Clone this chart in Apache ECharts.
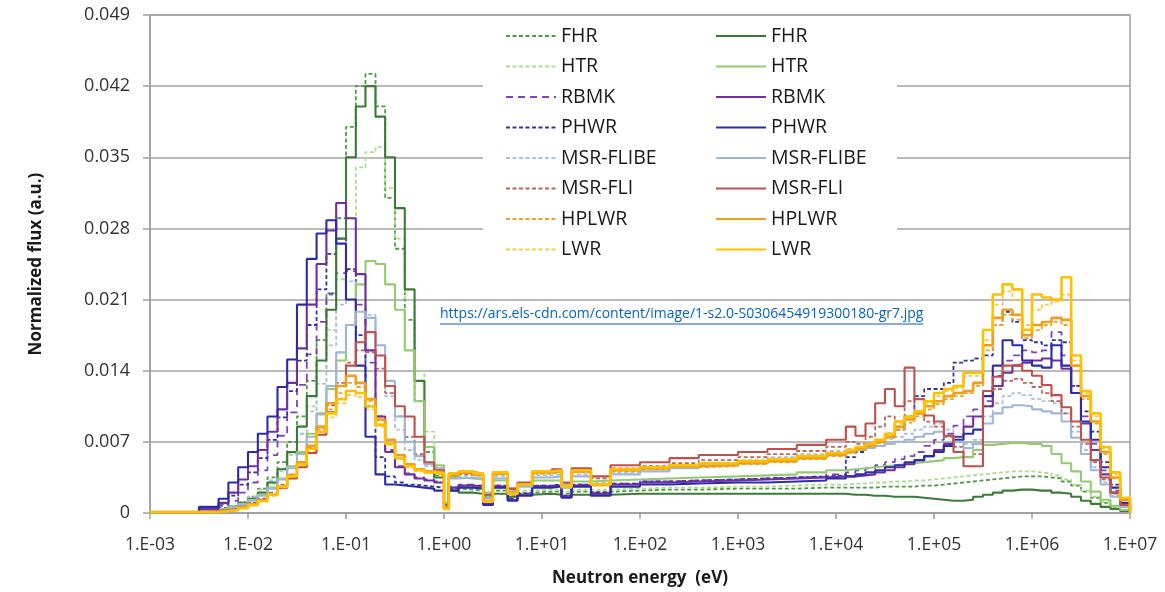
<!DOCTYPE html>
<html>
<head>
<meta charset="utf-8">
<script src="https://cdn.jsdelivr.net/npm/echarts@6/dist/echarts.min.js"></script>
<style>
  html, body { margin: 0; padding: 0; background: #ffffff; }
  #chart { width: 1165px; height: 592px; }
</style>
</head>
<body>
<div id="chart"></div>
<script>
// Lower edge of each energy group (eV); the flux value of a group holds until the next edge.
const energyEv = [
  0.001, 0.00316, 0.00501, 0.00631, 0.00794, 0.01, 0.0126, 0.0158, 0.02, 0.0251,
  0.0316, 0.0398, 0.0501, 0.0631, 0.0794, 0.1, 0.126, 0.158, 0.2, 0.251,
  0.316, 0.398, 0.501, 0.631, 0.794,
  1.0, 1.12, 1.41, 2.0, 2.51, 3.16, 4.47, 5.62, 7.94, 12.6, 15.8, 20, 31.6, 50.1,
  100, 200, 398, 1000, 2000, 3980, 7940, 12600,
  15800, 20000, 25100, 31600, 39800, 50100, 63100, 79400, 1e5, 1.26e5,
  1.58e5, 2e5, 2.51e5, 3.16e5, 3.98e5, 5.01e5, 6.31e5, 7.94e5, 1e6, 1.26e6,
  1.58e6, 2e6, 2.51e6, 3.16e6, 3.98e6, 5.01e6, 6.31e6, 7.94e6, 1e7
];

// Dashed-line spectra
const fhrDashed = [
  0.0001, 0.0003, 0.0005, 0.0007, 0.0011, 0.0016, 0.0024, 0.0035, 0.005, 0.007,
  0.0095, 0.013, 0.017, 0.0215, 0.029, 0.038, 0.042, 0.0432, 0.040, 0.031,
  0.026, 0.019, 0.011, 0.006, 0.0037,
  0.0009, 0.0024, 0.0023, 0.0022, 0.0016, 0.0022, 0.0018, 0.002, 0.0021, 0.0021,
  0.0019, 0.0021, 0.0021, 0.0022, 0.0023, 0.0023, 0.0024, 0.0024, 0.0024, 0.0025, 0.0025,
  0.0025, 0.0025, 0.0025, 0.0026, 0.0026, 0.0026, 0.0026, 0.0027, 0.0027, 0.0028,
  0.0029, 0.003, 0.0031, 0.0032, 0.0033, 0.0034, 0.0035, 0.0036, 0.0036, 0.0036,
  0.0035, 0.0034, 0.0031, 0.0027, 0.0021, 0.0015, 0.001, 0.0006, 0.0003, 0
];
const htrDashed = [
  0.0001, 0.0002, 0.0004, 0.0006, 0.0009, 0.0014, 0.002, 0.0029, 0.0041, 0.0057,
  0.0078, 0.0105, 0.014, 0.018, 0.023, 0.029, 0.034, 0.0355, 0.036, 0.032,
  0.027, 0.021, 0.014, 0.008, 0.0045,
  0.001, 0.0026, 0.0025, 0.0024, 0.0017, 0.0024, 0.0019, 0.0022, 0.0023, 0.0023,
  0.0021, 0.0023, 0.0023, 0.0024, 0.0025, 0.0025, 0.0026, 0.0026, 0.0027, 0.0028, 0.0028,
  0.0029, 0.0029, 0.003, 0.003, 0.0031, 0.0031, 0.0032, 0.0032, 0.0033, 0.0034,
  0.0035, 0.0036, 0.0037, 0.0038, 0.0039, 0.004, 0.0041, 0.0041, 0.0041, 0.004,
  0.0039, 0.0037, 0.0033, 0.0028, 0.0022, 0.0016, 0.0011, 0.0006, 0.0003, 0
];
const rbmkDashed = [
  0.0001, 0.0003, 0.0007, 0.0012, 0.002, 0.003, 0.0042, 0.0057, 0.0076, 0.0099,
  0.0126, 0.0156, 0.0188, 0.0216, 0.0236, 0.0238, 0.0205, 0.0148, 0.0095, 0.0062,
  0.0046, 0.0039, 0.0035, 0.0033, 0.0031,
  0.0006, 0.0026, 0.0028, 0.0027, 0.0011, 0.0027, 0.0014, 0.0019, 0.0027, 0.0028,
  0.0017, 0.0028, 0.002, 0.0029, 0.0031, 0.0032, 0.0033, 0.0034, 0.0035, 0.0036, 0.0038,
  0.004, 0.0042, 0.0044, 0.0047, 0.005, 0.0053, 0.0056, 0.006, 0.0066, 0.0072,
  0.0078, 0.0086, 0.0095, 0.0102, 0.011, 0.0135, 0.015, 0.0155, 0.016, 0.0158,
  0.016, 0.0178, 0.0155, 0.0125, 0.0095, 0.0068, 0.0042, 0.0022, 0.0009, 0
];
const phwrDashed = [
  0.0001, 0.0004, 0.0009, 0.0017, 0.0028, 0.004, 0.0054, 0.0072, 0.0094, 0.012,
  0.015, 0.0185, 0.022, 0.0255, 0.027, 0.024, 0.0175, 0.0105, 0.0055, 0.0036,
  0.003, 0.0028, 0.0027, 0.0026, 0.0025,
  0.0005, 0.0024, 0.0027, 0.0026, 0.001, 0.0027, 0.0014, 0.0019, 0.0027, 0.0028,
  0.0017, 0.0028, 0.002, 0.0029, 0.0031, 0.0032, 0.0033, 0.0034, 0.0035, 0.0036, 0.0037,
  0.0055, 0.006, 0.0065, 0.0072, 0.0078, 0.0082, 0.0095, 0.0115, 0.0122, 0.0122,
  0.0128, 0.0148, 0.015, 0.0152, 0.0155, 0.0185, 0.0198, 0.0188, 0.017, 0.0168,
  0.0165, 0.017, 0.0168, 0.0125, 0.01, 0.008, 0.005, 0.0028, 0.001, 0
];
const flibeDashed = [
  0.0001, 0.0002, 0.0004, 0.0007, 0.0011, 0.0016, 0.0023, 0.0032, 0.0044, 0.0059,
  0.0078, 0.01, 0.0127, 0.0165, 0.0205, 0.0228, 0.0225, 0.0195, 0.0155, 0.0115,
  0.0082, 0.0062, 0.0052, 0.0046, 0.0043,
  0.0006, 0.0036, 0.0037, 0.0036, 0.0016, 0.0036, 0.0022, 0.0028, 0.0037, 0.0038,
  0.0026, 0.0038, 0.003, 0.004, 0.0043, 0.0046, 0.0049, 0.0052, 0.0055, 0.0058, 0.0061,
  0.0063, 0.0065, 0.0068, 0.007, 0.0073, 0.0075, 0.0078, 0.0082, 0.0085, 0.0088,
  0.0082, 0.0075, 0.0068, 0.0072, 0.0095, 0.0108, 0.0115, 0.0118, 0.0116, 0.0112,
  0.011, 0.0108, 0.0098, 0.008, 0.0062, 0.0045, 0.003, 0.0017, 0.0007, 0
];
const fliDashed = [
  0.0001, 0.0002, 0.0003, 0.0005, 0.0007, 0.001, 0.0014, 0.002, 0.0028, 0.0038,
  0.005, 0.0065, 0.0084, 0.0106, 0.0128, 0.0148, 0.016, 0.0158, 0.0142, 0.0118,
  0.0095, 0.0075, 0.0058, 0.0048, 0.0043,
  0.0006, 0.0036, 0.0038, 0.0037, 0.0017, 0.0038, 0.0023, 0.0029, 0.0039, 0.0041,
  0.0029, 0.0042, 0.0034, 0.0044, 0.0046, 0.0049, 0.0052, 0.0055, 0.0058, 0.0061, 0.0065,
  0.007, 0.0068, 0.0075, 0.0085, 0.0095, 0.009, 0.011, 0.0098, 0.009, 0.0085,
  0.0075, 0.0065, 0.0055, 0.0058, 0.0105, 0.0122, 0.013, 0.0132, 0.0128, 0.0124,
  0.0118, 0.011, 0.0098, 0.0085, 0.0068, 0.005, 0.0033, 0.0019, 0.0008, 0
];
const hplwrDashed = [
  0.0001, 0.0001, 0.0002, 0.0003, 0.0005, 0.0008, 0.0012, 0.0017, 0.0025, 0.0035,
  0.0048, 0.0063, 0.0082, 0.0102, 0.0118, 0.0128, 0.0124, 0.011, 0.0091, 0.0072,
  0.0057, 0.0048, 0.0043, 0.0041, 0.004,
  0.0005, 0.0037, 0.0039, 0.0037, 0.0012, 0.0038, 0.002, 0.0027, 0.0039, 0.004,
  0.0025, 0.004, 0.0027, 0.0041, 0.0043, 0.0045, 0.0046, 0.0048, 0.005, 0.0053, 0.0056,
  0.0059, 0.0062, 0.0065, 0.0069, 0.0074, 0.0082, 0.0089, 0.0095, 0.0102, 0.0107,
  0.0112, 0.0115, 0.0118, 0.0125, 0.016, 0.0185, 0.0195, 0.019, 0.0172, 0.018,
  0.0185, 0.0188, 0.0185, 0.014, 0.0112, 0.0088, 0.0058, 0.0034, 0.0013, 0
];
const lwrDashed = [
  0.0001, 0.0001, 0.0002, 0.0003, 0.0005, 0.0008, 0.0011, 0.0017, 0.0024, 0.0034,
  0.0046, 0.006, 0.0077, 0.0094, 0.0108, 0.0116, 0.0114, 0.0102, 0.0085, 0.0067,
  0.0053, 0.0045, 0.0041, 0.0039, 0.0038,
  0.0004, 0.0038, 0.004, 0.0038, 0.0011, 0.0039, 0.0019, 0.0027, 0.004, 0.0041,
  0.0025, 0.0041, 0.0027, 0.0042, 0.0044, 0.0046, 0.0048, 0.005, 0.0052, 0.0055, 0.0058,
  0.0061, 0.0064, 0.0067, 0.0071, 0.0077, 0.0088, 0.0093, 0.0098, 0.0108, 0.0115,
  0.012, 0.0123, 0.0135, 0.0135, 0.017, 0.0205, 0.0218, 0.021, 0.0185, 0.02,
  0.0205, 0.0208, 0.0215, 0.015, 0.0118, 0.0095, 0.0063, 0.0038, 0.0014, 0
];

// Solid-line spectra
const fhrSolid = [
  0.0001, 0.0002, 0.0004, 0.0006, 0.001, 0.0014, 0.002, 0.003, 0.0043, 0.006,
  0.0085, 0.0115, 0.015, 0.020, 0.027, 0.035, 0.040, 0.042, 0.039, 0.035,
  0.030, 0.022, 0.013, 0.0065, 0.0035,
  0.0008, 0.0022, 0.002, 0.0019, 0.0015, 0.0019, 0.0016, 0.0018, 0.0019, 0.0018,
  0.0016, 0.0018, 0.0018, 0.0019, 0.0019, 0.0019, 0.0019, 0.0019, 0.0019, 0.0019, 0.0019,
  0.0018, 0.0018, 0.0017, 0.0017, 0.0016, 0.0016, 0.0016, 0.0015, 0.0014, 0.0013,
  0.0012, 0.0012, 0.0013, 0.0016, 0.0018, 0.002, 0.0022, 0.0023, 0.0023, 0.0022,
  0.0022, 0.002, 0.0019, 0.0016, 0.0012, 0.0009, 0.0006, 0.0004, 0.0002, 0
];
const htrSolid = [
  0.0001, 0.0002, 0.0004, 0.0006, 0.0009, 0.0013, 0.0018, 0.0025, 0.0034, 0.0046,
  0.006, 0.0078, 0.0098, 0.0122, 0.015, 0.0185, 0.0225, 0.0248, 0.0245, 0.0225,
  0.02, 0.016, 0.011, 0.0065, 0.0047,
  0.001, 0.0035, 0.0034, 0.0033, 0.002, 0.0032, 0.0024, 0.0028, 0.0032, 0.0032,
  0.0028, 0.0031, 0.0032, 0.0033, 0.0034, 0.0035, 0.0036, 0.0037, 0.0038, 0.004, 0.0042,
  0.0043, 0.0044, 0.0045, 0.0046, 0.0047, 0.0048, 0.0049, 0.005, 0.0051, 0.0052,
  0.0054, 0.0055, 0.0055, 0.0062, 0.0067, 0.0068, 0.0069, 0.0069, 0.0068, 0.0068,
  0.0066, 0.0058, 0.0049, 0.0041, 0.0031, 0.0021, 0.0013, 0.0007, 0.0003, 0
];
const rbmkSolid = [
  0.0001, 0.0004, 0.001, 0.002, 0.0033, 0.0046, 0.0062, 0.008, 0.0102, 0.0128,
  0.0162, 0.0205, 0.0245, 0.0278, 0.0305, 0.029, 0.0235, 0.016, 0.0095, 0.006,
  0.0045, 0.0038, 0.0034, 0.0032, 0.003,
  0.0005, 0.0025, 0.0027, 0.0026, 0.001, 0.0026, 0.0013, 0.0018, 0.0026, 0.0027,
  0.0016, 0.0027, 0.0019, 0.0028, 0.003, 0.0031, 0.0032, 0.0033, 0.0034, 0.0035, 0.0036,
  0.0036, 0.0037, 0.0038, 0.004, 0.0042, 0.0045, 0.0048, 0.0052, 0.0056, 0.0062,
  0.0068, 0.0075, 0.0085, 0.0095, 0.0105, 0.0125, 0.0138, 0.0145, 0.0148, 0.015,
  0.0152, 0.015, 0.0142, 0.0118, 0.0088, 0.0062, 0.0038, 0.002, 0.0008, 0
];
const phwrSolid = [
  0.0001, 0.0006, 0.0014, 0.003, 0.0045, 0.006, 0.0078, 0.0095, 0.0124, 0.0151,
  0.0205, 0.025, 0.0275, 0.0288, 0.0265, 0.021, 0.0145, 0.0075, 0.0038, 0.0028,
  0.0027, 0.0026, 0.0025, 0.0024, 0.0022,
  0.0004, 0.0022, 0.0025, 0.0024, 0.0008, 0.0025, 0.0012, 0.0017, 0.0025, 0.0026,
  0.0015, 0.0026, 0.0017, 0.0026, 0.0028, 0.0029, 0.003, 0.003, 0.0031, 0.0032, 0.0034,
  0.0036, 0.0038, 0.004, 0.0042, 0.0045, 0.0047, 0.005, 0.0052, 0.0056, 0.006,
  0.0066, 0.0072, 0.0078, 0.0082, 0.0115, 0.0145, 0.017, 0.0165, 0.015, 0.0145,
  0.0143, 0.0165, 0.0145, 0.0118, 0.009, 0.0072, 0.0045, 0.0025, 0.001, 0
];
const flibeSolid = [
  0.0001, 0.0002, 0.0003, 0.0005, 0.0008, 0.0012, 0.0017, 0.0024, 0.0033, 0.0044,
  0.0058, 0.0075, 0.0097, 0.0125, 0.0158, 0.0185, 0.0198, 0.0192, 0.0165, 0.013,
  0.0095, 0.007, 0.0056, 0.0048, 0.0044,
  0.0006, 0.0034, 0.0035, 0.0034, 0.0015, 0.0034, 0.0021, 0.0026, 0.0035, 0.0036,
  0.0025, 0.0036, 0.0028, 0.0038, 0.0041, 0.0044, 0.0047, 0.005, 0.0053, 0.0056, 0.0059,
  0.006, 0.0062, 0.0064, 0.0066, 0.0068, 0.007, 0.0072, 0.0075, 0.0078, 0.008,
  0.0076, 0.007, 0.0064, 0.0068, 0.0088, 0.0098, 0.0104, 0.0106, 0.0105, 0.0102,
  0.01, 0.0098, 0.009, 0.0074, 0.0058, 0.0042, 0.0028, 0.0016, 0.0006, 0
];
const fliSolid = [
  0.0001, 0.0002, 0.0003, 0.0004, 0.0006, 0.0009, 0.0013, 0.0018, 0.0025, 0.0034,
  0.0045, 0.0059, 0.0077, 0.0099, 0.0125, 0.0145, 0.0168, 0.0178, 0.0155, 0.0125,
  0.0105, 0.0095, 0.0075, 0.005, 0.0042,
  0.0006, 0.0038, 0.004, 0.0039, 0.0018, 0.004, 0.0024, 0.003, 0.0041, 0.0043,
  0.003, 0.0044, 0.0036, 0.0047, 0.005, 0.0054, 0.0057, 0.006, 0.0063, 0.0067, 0.0072,
  0.0085, 0.0076, 0.0088, 0.0108, 0.0122, 0.0105, 0.0143, 0.0112, 0.0096, 0.009,
  0.0076, 0.006, 0.0046, 0.0046, 0.012, 0.0134, 0.0145, 0.0146, 0.014, 0.0135,
  0.0126, 0.0116, 0.0104, 0.009, 0.0072, 0.0052, 0.0035, 0.002, 0.0008, 0
];
const hplwrSolid = [
  0.0001, 0.0001, 0.0002, 0.0003, 0.0005, 0.0008, 0.0012, 0.0018, 0.0026, 0.0037,
  0.005, 0.0066, 0.0085, 0.0108, 0.0125, 0.0135, 0.0128, 0.0112, 0.0092, 0.0072,
  0.0057, 0.0048, 0.0043, 0.0041, 0.004,
  0.0005, 0.0038, 0.004, 0.0038, 0.0012, 0.0039, 0.002, 0.0028, 0.004, 0.0041,
  0.0026, 0.0041, 0.0028, 0.0042, 0.0044, 0.0046, 0.0047, 0.0049, 0.0051, 0.0054, 0.0057,
  0.006, 0.0063, 0.0066, 0.007, 0.0075, 0.0085, 0.0092, 0.0098, 0.0105, 0.011,
  0.0115, 0.0118, 0.012, 0.0128, 0.0165, 0.0192, 0.02, 0.0195, 0.0175, 0.0185,
  0.0188, 0.0192, 0.019, 0.0145, 0.0115, 0.009, 0.006, 0.0035, 0.0013, 0
];
const lwrSolid = [
  0.0001, 0.0001, 0.0002, 0.0003, 0.0005, 0.0008, 0.0012, 0.0018, 0.0026, 0.0036,
  0.0048, 0.0063, 0.008, 0.0098, 0.0112, 0.012, 0.0118, 0.0105, 0.0087, 0.0068,
  0.0054, 0.0046, 0.0042, 0.004, 0.0039,
  0.0004, 0.0039, 0.0041, 0.0039, 0.0011, 0.004, 0.0019, 0.0028, 0.0041, 0.0042,
  0.0026, 0.0042, 0.0028, 0.0043, 0.0045, 0.0047, 0.0049, 0.0051, 0.0053, 0.0056, 0.0059,
  0.0062, 0.0065, 0.0068, 0.0072, 0.0078, 0.009, 0.0095, 0.01, 0.011, 0.0118,
  0.0122, 0.0125, 0.0138, 0.0138, 0.018, 0.0215, 0.0225, 0.022, 0.018, 0.0215,
  0.0212, 0.021, 0.0232, 0.0155, 0.012, 0.0098, 0.0065, 0.004, 0.0015, 0
];

const reactorNames = ['FHR', 'HTR', 'RBMK', 'PHWR', 'MSR-FLIBE', 'MSR-FLI', 'HPLWR', 'LWR'];
const dashedValues = [fhrDashed, htrDashed, rbmkDashed, phwrDashed, flibeDashed, fliDashed, hplwrDashed, lwrDashed];
const solidValues = [fhrSolid, htrSolid, rbmkSolid, phwrSolid, flibeSolid, fliSolid, hplwrSolid, lwrSolid];
const dashedColors = ['#4f9a46', '#addb90', '#7f45b8', '#34349c', '#aac2dd', '#b9675f', '#eaa624', '#f4cb4a'];
const solidColors = ['#3b7b36', '#96ca72', '#7030a0', '#2c2caa', '#9fb7d6', '#c0504d', '#ef9f1a', '#ffc000'];
const yTicks = [0, 0.007, 0.014, 0.021, 0.028, 0.035, 0.042, 0.049];
const sourceUrl = 'https://ars.els-cdn.com/content/image/1-s2.0-S0306454919300180-gr7.jpg';

const FONT = "'Open Sans', 'DejaVu Sans', sans-serif";
const URL_FONT = "14px 'Open Sans'";
const DASHED_TAG = '#d';
const SOLID_TAG = '#s';

function buildSeries(values, name, color, dashed) {
  const isYellow = name.startsWith('LWR') || name.startsWith('HPLWR');
  return {
    type: 'line',
    name: name,
    step: 'end',
    symbol: 'none',
    showSymbol: false,
    animation: false,
    data: energyEv.map((e, i) => [e, values[i]]),
    lineStyle: {
      color: color,
      width: dashed ? 1.8 : (isYellow ? 2.6 : 2.1),
      type: dashed ? (name.startsWith('RBMK') ? [7, 5] : [4, 2.5]) : 'solid'
    },
    itemStyle: { color: color }
  };
}

const series = [];
reactorNames.forEach((r, k) => series.push(buildSeries(dashedValues[k], r + DASHED_TAG, dashedColors[k], true)));
reactorNames.forEach((r, k) => series.push(buildSeries(solidValues[k], r + SOLID_TAG, solidColors[k], false)));

function expLabel(v) {
  const p = Math.round(Math.log10(v));
  const s = Math.abs(p) < 10 ? '0' + Math.abs(p) : String(Math.abs(p));
  return '1.E' + (p < 0 ? '-' : '+') + s;
}

function legendBlock(tag, left) {
  return {
    orient: 'vertical',
    left: left,
    top: 26,
    padding: 0,
    itemWidth: 50,
    itemHeight: 14,
    itemGap: 10.5,
    selectedMode: false,
    data: reactorNames.map(r => r + tag),
    formatter: n => n.slice(0, -tag.length),
    itemStyle: { opacity: 0 },
    textStyle: { fontFamily: FONT, fontSize: 19.5, color: '#1a1a1a' },
    z: 10
  };
}

// Underline length for the link text
const measureCtx = document.createElement('canvas').getContext('2d');
measureCtx.font = URL_FONT;
const urlWidth = measureCtx.measureText(sourceUrl).width;

const chart = echarts.init(document.getElementById('chart'), null, { renderer: 'canvas' });
chart.setOption({
  backgroundColor: '#ffffff',
  animation: false,
  grid: {
    left: 150, right: 35, top: 15, bottom: 78,
    show: true, borderColor: '#a0a0a0', borderWidth: 1.5
  },
  legend: [legendBlock(DASHED_TAG, 505), legendBlock(SOLID_TAG, 715)],
  xAxis: {
    type: 'log',
    logBase: 10,
    min: 1e-3,
    max: 1e7,
    interval: 1,
    name: 'Neutron energy  (eV)',
    nameLocation: 'middle',
    nameGap: 57,
    nameTextStyle: { fontFamily: FONT, fontSize: 17, fontWeight: 'bold', color: '#1a1a1a' },
    axisLine: { show: true, lineStyle: { color: '#a0a0a0', width: 1.5 } },
    axisTick: { show: true, inside: false, length: 6, lineStyle: { color: '#a0a0a0', width: 1.5 } },
    minorTick: { show: false },
    splitLine: { show: false },
    axisLabel: {
      margin: 23,
      interval: 0,
      fontFamily: FONT, fontSize: 17.5, color: '#333333',
      formatter: expLabel
    }
  },
  yAxis: {
    type: 'value',
    min: yTicks[0],
    max: yTicks[yTicks.length - 1],
    interval: 0.007,
    name: 'Normalized flux (a.u.)',
    nameLocation: 'middle',
    nameGap: 105,
    nameRotate: 90,
    nameTextStyle: { fontFamily: FONT, fontSize: 17, fontWeight: 'bold', color: '#1a1a1a' },
    axisLine: { show: true, lineStyle: { color: '#a0a0a0', width: 1.5 } },
    axisTick: { show: true, inside: false, length: 7, lineStyle: { color: '#a0a0a0', width: 1.5 } },
    splitLine: { show: true, lineStyle: { color: '#a3a3a3', width: 1.5 } },
    axisLabel: {
      margin: 20,
      fontFamily: FONT, fontSize: 18, color: '#333333',
      formatter: v => (v === 0 ? '0' : v.toFixed(3))
    }
  },
  graphic: [
    {
      type: 'rect',
      left: 483, top: 18,
      shape: { width: 414, height: 250 },
      style: { fill: '#ffffff' },
      z: 5
    },
    {
      type: 'text',
      left: 440, top: 307,
      style: { text: sourceUrl, font: URL_FONT, fill: '#0563c1' },
      z: 6
    },
    {
      type: 'line',
      shape: { x1: 440, y1: 324, x2: 440 + urlWidth, y2: 324 },
      style: { stroke: '#0563c1', lineWidth: 1 },
      z: 6
    }
  ],
  series: series
});
</script>
</body>
</html>
